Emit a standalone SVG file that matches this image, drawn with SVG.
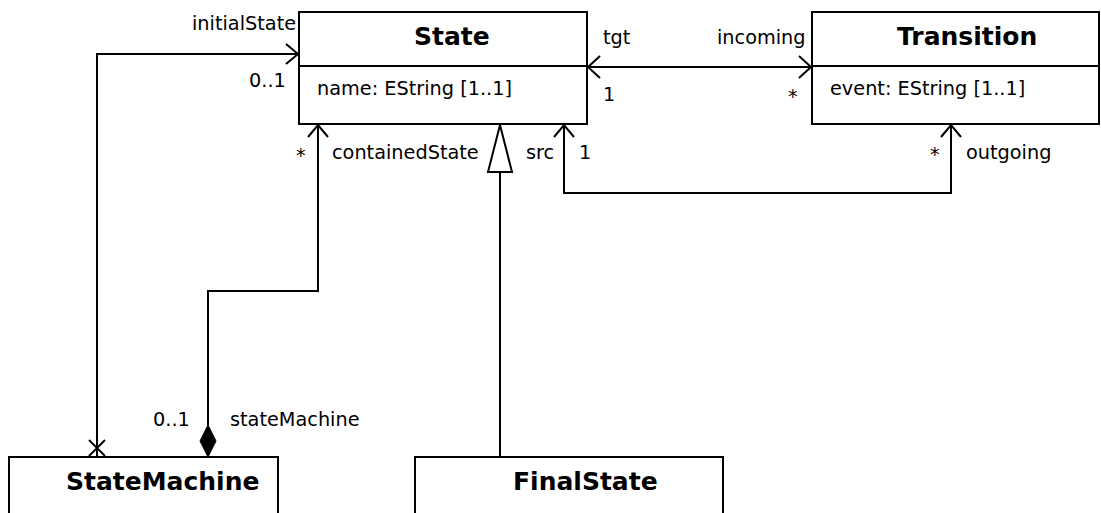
<svg xmlns="http://www.w3.org/2000/svg" width="1101" height="513" viewBox="0 0 1101 513">
<style>
.box{fill:#fff;stroke:#000;stroke-width:2}
.ln{fill:none;stroke:#000;stroke-width:2}
.t{font-family:"DejaVu Sans",sans-serif;font-size:19.3px;fill:#000}
.b{font-family:"DejaVu Sans",sans-serif;font-size:25px;font-weight:bold;fill:#000}
</style>
<rect width="1101" height="513" fill="#fff"/>
<g id="State">
<rect class="box" x="299" y="12" width="288" height="112"/>
<line class="ln" x1="299" y1="66" x2="587" y2="66"/>
<text class="b" x="414" y="45">State</text>
<text class="t" x="317" y="95">name: EString [1..1]</text>
</g>
<g id="Transition">
<rect class="box" x="812" y="12" width="287" height="112"/>
<line class="ln" x1="812" y1="66" x2="1099" y2="66"/>
<text class="b" x="897" y="45">Transition</text>
<text class="t" x="830" y="95">event: EString [1..1]</text>
</g>
<g id="StateMachine">
<rect class="box" x="9" y="457" width="269" height="80"/>
<text class="b" x="66" y="490">StateMachine</text>
</g>
<g id="FinalState">
<rect class="box" x="415" y="457" width="308" height="80"/>
<text class="b" x="513" y="490">FinalState</text>
</g>
<g id="connectors">
<!-- initialState -->
<polyline class="ln" points="97,457 97,54 298,54"/>
<polyline class="ln" points="286,44 298,54 286,64"/>
<path class="ln" d="M89,440 L105,456 M105,440 L89,456"/>
<text class="t" x="192" y="30">initialState</text>
<text class="t" x="249" y="87">0..1</text>
<!-- containedState -->
<polyline class="ln" points="208,425 208,291 318,291 318,125"/>
<polyline class="ln" points="308,137 318,125 328,137"/>
<polygon points="208,425 216,441 208,457 200,441" fill="#000" stroke="#000" stroke-width="1"/>
<text class="t" x="296" y="162">*</text>
<text class="t" x="332" y="159">containedState</text>
<text class="t" x="153" y="426">0..1</text>
<text class="t" x="230" y="426">stateMachine</text>
<!-- generalization -->
<line class="ln" x1="500" y1="457" x2="500" y2="172"/>
<polygon points="500,125 512,172 488,172" fill="#fff" stroke="#000" stroke-width="2"/>
<!-- tgt / incoming -->
<line class="ln" x1="588" y1="67" x2="811" y2="67"/>
<polyline class="ln" points="600,56 588,67 600,78"/>
<polyline class="ln" points="799,56 811,67 799,78"/>
<text class="t" x="603" y="44">tgt</text>
<text class="t" x="603" y="101">1</text>
<text class="t" x="717" y="44">incoming</text>
<text class="t" x="788" y="103">*</text>
<!-- src / outgoing -->
<polyline class="ln" points="564,125 564,193 951,193 951,125"/>
<polyline class="ln" points="554,137 564,125 574,137"/>
<polyline class="ln" points="941,137 951,125 961,137"/>
<text class="t" x="526" y="159">src</text>
<text class="t" x="579" y="159">1</text>
<text class="t" x="930" y="161">*</text>
<text class="t" x="966" y="159">outgoing</text>
</g>
</svg>
